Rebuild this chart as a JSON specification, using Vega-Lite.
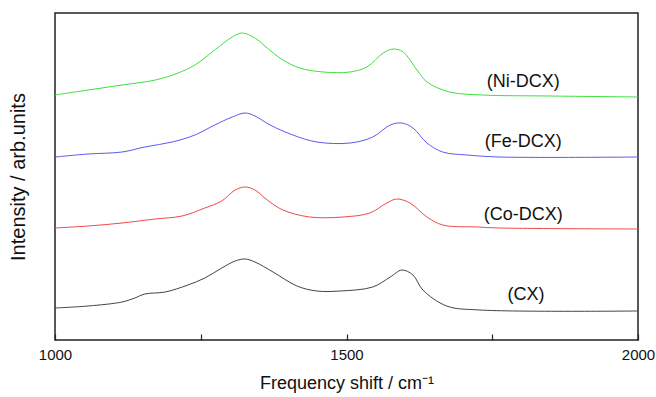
{
  "$schema": "https://vega.github.io/schema/vega-lite/v6.json",
  "width": 583,
  "height": 327,
  "autosize": {"type": "none"},
  "padding": {"left": 55, "top": 13, "right": 18, "bottom": 57},
  "background": "white",
  "config": {
    "font": "Liberation Sans",
    "view": {"stroke": "#222222", "strokeWidth": 1.5}
  },
  "datasets": {
    "spectra": [
      {"s": "Ni-DCX", "f": 1000, "v": 245}, {"s": "Ni-DCX", "f": 1057, "v": 250}, {"s": "Ni-DCX", "f": 1115, "v": 255},
      {"s": "Ni-DCX", "f": 1172, "v": 260}, {"s": "Ni-DCX", "f": 1211, "v": 267}, {"s": "Ni-DCX", "f": 1240, "v": 275},
      {"s": "Ni-DCX", "f": 1274, "v": 290}, {"s": "Ni-DCX", "f": 1304, "v": 303}, {"s": "Ni-DCX", "f": 1321, "v": 307},
      {"s": "Ni-DCX", "f": 1343, "v": 302}, {"s": "Ni-DCX", "f": 1364, "v": 292}, {"s": "Ni-DCX", "f": 1391, "v": 280},
      {"s": "Ni-DCX", "f": 1420, "v": 272}, {"s": "Ni-DCX", "f": 1460, "v": 268}, {"s": "Ni-DCX", "f": 1506, "v": 268},
      {"s": "Ni-DCX", "f": 1535, "v": 273}, {"s": "Ni-DCX", "f": 1563, "v": 287}, {"s": "Ni-DCX", "f": 1580, "v": 291},
      {"s": "Ni-DCX", "f": 1597, "v": 288}, {"s": "Ni-DCX", "f": 1621, "v": 270}, {"s": "Ni-DCX", "f": 1638, "v": 258},
      {"s": "Ni-DCX", "f": 1677, "v": 248}, {"s": "Ni-DCX", "f": 1734, "v": 245}, {"s": "Ni-DCX", "f": 1849, "v": 244},
      {"s": "Ni-DCX", "f": 2000, "v": 243},

      {"s": "Fe-DCX", "f": 1000, "v": 183}, {"s": "Fe-DCX", "f": 1057, "v": 186}, {"s": "Fe-DCX", "f": 1115, "v": 188},
      {"s": "Fe-DCX", "f": 1154, "v": 193}, {"s": "Fe-DCX", "f": 1201, "v": 198}, {"s": "Fe-DCX", "f": 1240, "v": 205},
      {"s": "Fe-DCX", "f": 1274, "v": 215}, {"s": "Fe-DCX", "f": 1304, "v": 223}, {"s": "Fe-DCX", "f": 1326, "v": 227},
      {"s": "Fe-DCX", "f": 1343, "v": 224}, {"s": "Fe-DCX", "f": 1369, "v": 215}, {"s": "Fe-DCX", "f": 1408, "v": 205},
      {"s": "Fe-DCX", "f": 1449, "v": 198}, {"s": "Fe-DCX", "f": 1506, "v": 197}, {"s": "Fe-DCX", "f": 1545, "v": 203},
      {"s": "Fe-DCX", "f": 1575, "v": 215}, {"s": "Fe-DCX", "f": 1595, "v": 217}, {"s": "Fe-DCX", "f": 1614, "v": 212},
      {"s": "Fe-DCX", "f": 1638, "v": 197}, {"s": "Fe-DCX", "f": 1665, "v": 188}, {"s": "Fe-DCX", "f": 1707, "v": 185},
      {"s": "Fe-DCX", "f": 1763, "v": 183}, {"s": "Fe-DCX", "f": 2000, "v": 183},

      {"s": "Co-DCX", "f": 1000, "v": 112}, {"s": "Co-DCX", "f": 1057, "v": 114}, {"s": "Co-DCX", "f": 1115, "v": 117},
      {"s": "Co-DCX", "f": 1172, "v": 121}, {"s": "Co-DCX", "f": 1218, "v": 124}, {"s": "Co-DCX", "f": 1257, "v": 132},
      {"s": "Co-DCX", "f": 1286, "v": 139}, {"s": "Co-DCX", "f": 1309, "v": 150}, {"s": "Co-DCX", "f": 1326, "v": 153},
      {"s": "Co-DCX", "f": 1343, "v": 150}, {"s": "Co-DCX", "f": 1364, "v": 140}, {"s": "Co-DCX", "f": 1391, "v": 130},
      {"s": "Co-DCX", "f": 1437, "v": 123}, {"s": "Co-DCX", "f": 1494, "v": 123}, {"s": "Co-DCX", "f": 1540, "v": 127},
      {"s": "Co-DCX", "f": 1569, "v": 137}, {"s": "Co-DCX", "f": 1586, "v": 141}, {"s": "Co-DCX", "f": 1609, "v": 137},
      {"s": "Co-DCX", "f": 1638, "v": 123}, {"s": "Co-DCX", "f": 1665, "v": 115}, {"s": "Co-DCX", "f": 1724, "v": 113},
      {"s": "Co-DCX", "f": 1763, "v": 112}, {"s": "Co-DCX", "f": 2000, "v": 111},

      {"s": "CX", "f": 1000, "v": 32}, {"s": "CX", "f": 1057, "v": 34}, {"s": "CX", "f": 1115, "v": 38},
      {"s": "CX", "f": 1137, "v": 42}, {"s": "CX", "f": 1154, "v": 46}, {"s": "CX", "f": 1189, "v": 48},
      {"s": "CX", "f": 1228, "v": 55}, {"s": "CX", "f": 1257, "v": 62}, {"s": "CX", "f": 1286, "v": 72},
      {"s": "CX", "f": 1309, "v": 79}, {"s": "CX", "f": 1326, "v": 81}, {"s": "CX", "f": 1343, "v": 78},
      {"s": "CX", "f": 1374, "v": 68}, {"s": "CX", "f": 1415, "v": 54}, {"s": "CX", "f": 1449, "v": 49},
      {"s": "CX", "f": 1489, "v": 49}, {"s": "CX", "f": 1545, "v": 53}, {"s": "CX", "f": 1575, "v": 63},
      {"s": "CX", "f": 1595, "v": 70}, {"s": "CX", "f": 1614, "v": 65}, {"s": "CX", "f": 1631, "v": 50},
      {"s": "CX", "f": 1672, "v": 34}, {"s": "CX", "f": 1729, "v": 30}, {"s": "CX", "f": 2000, "v": 29}
    ],
    "labels": [
      {"label": "(Ni-DCX)", "f": 1803, "v": 258},
      {"label": "(Fe-DCX)", "f": 1803, "v": 198},
      {"label": "(Co-DCX)", "f": 1803, "v": 125},
      {"label": "(CX)", "f": 1808, "v": 45}
    ]
  },
  "layer": [
    {
      "data": {"name": "spectra"},
      "mark": {"type": "line", "strokeWidth": 1, "interpolate": "catmull-rom"},
      "encoding": {
        "x": {
          "field": "f", "type": "quantitative",
          "scale": {"domain": [1000, 2000], "nice": false, "zero": false},
          "axis": {
            "title": "Frequency shift / cm⁻¹",
            "values": [1000, 1250, 1500, 1750, 2000],
            "labelExpr": "datum.value % 500 === 0 ? datum.label : ''",
            "format": "d",
            "grid": false,
            "domain": false,
            "tickSize": -6,
            "tickColor": "#222222",
            "tickWidth": 1.2,
            "labelPadding": 13.5,
            "labelFontSize": 15,
            "labelColor": "#111111",
            "labelFlush": false,
            "titleFontSize": 18,
            "titleFontWeight": "normal",
            "titleColor": "#111111",
            "titlePadding": 12
          }
        },
        "y": {
          "field": "v", "type": "quantitative",
          "scale": {"domain": [0, 327], "nice": false, "zero": false},
          "axis": {
            "title": "Intensity / arb.units",
            "labels": false,
            "ticks": false,
            "grid": false,
            "domain": false,
            "titleFontSize": 20,
            "titleFontWeight": "normal",
            "titleColor": "#111111",
            "titlePadding": 27
          }
        },
        "color": {
          "field": "s", "type": "nominal",
          "scale": {"domain": ["Ni-DCX", "Fe-DCX", "Co-DCX", "CX"], "range": ["#3ee03e", "#5a5af0", "#f04848", "#444444"]},
          "legend": null
        }
      }
    },
    {
      "data": {"name": "labels"},
      "mark": {"type": "text", "fontSize": 18, "color": "#111111", "align": "center", "baseline": "middle"},
      "encoding": {
        "x": {"field": "f", "type": "quantitative"},
        "y": {"field": "v", "type": "quantitative"},
        "text": {"field": "label"}
      }
    }
  ]
}
